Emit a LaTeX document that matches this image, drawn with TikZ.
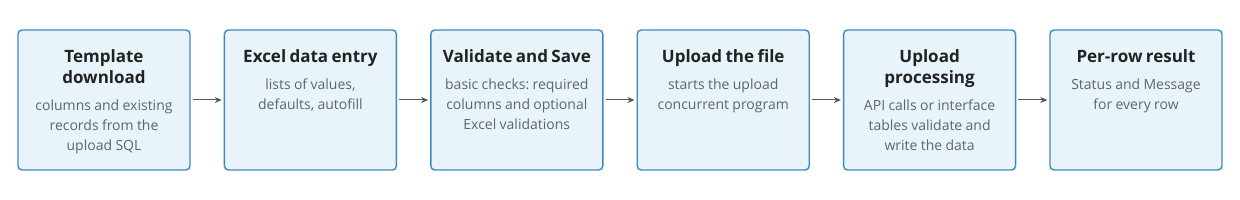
\documentclass[tikz,border=0pt]{standalone}
\usepackage{fontspec}
\setmainfont{Open Sans}
\usetikzlibrary{arrows.meta}
\definecolor{boxfill}{HTML}{E9F4FA}
\definecolor{boxline}{HTML}{3A8CC0}
\definecolor{titlec}{HTML}{222222}
\definecolor{bodyc}{HTML}{5F656C}
\definecolor{arrowc}{HTML}{555555}
\frenchspacing
\newcommand{\boxtitle}[1]{{\fontsize{17}{21.5}\selectfont\bfseries\color{titlec}#1\par}\vspace{7pt}}
\newcommand{\boxbody}[1]{{\fontsize{14}{20}\selectfont\color{bodyc}#1\par}}
\tikzset{
  stepbox/.style={draw=boxline, fill=boxfill, line width=1.4pt, rounded corners=4pt,
    minimum width=172pt, minimum height=140pt, inner sep=0pt},
  txt/.style={anchor=north, inner sep=0pt, text width=168pt, align=center},
  flow/.style={draw=arrowc, line width=1pt, -{Stealth[length=7pt,width=6pt]}, shorten <=2pt, shorten >=2pt}
}
\begin{document}
\begin{tikzpicture}[x=1pt,y=-1pt]
\frenchspacing
\useasboundingbox (0,0) rectangle (1240,200);
\node[stepbox] (b1) at (104,100) {};
\node[stepbox] (b2) at (310.4,100) {};
\node[stepbox] (b3) at (516.8,100) {};
\node[stepbox] (b4) at (723.2,100) {};
\node[stepbox] (b5) at (929.6,100) {};
\node[stepbox] (b6) at (1136,100) {};
\node[txt] (t1) at ([yshift=-20pt]b1.north) {\boxtitle{Template\\download}\boxbody{columns and existing\\records from the\\upload SQL}};
\node[txt] (t2) at ([yshift=-20pt]b2.north) {\boxtitle{Excel data entry}\boxbody{lists of values,\\defaults, autofill}};
\node[txt] (t3) at ([yshift=-20pt]b3.north) {\boxtitle{Validate and Save}\boxbody{basic checks: required\\columns and optional\\Excel validations}};
\node[txt] (t4) at ([yshift=-20pt]b4.north) {\boxtitle{Upload the file}\boxbody{starts the upload\\concurrent program}};
\node[txt] (t5) at ([yshift=-20pt]b5.north) {\boxtitle{Upload\\processing}\boxbody{API calls or interface\\tables validate and\\write the data}};
\node[txt] (t6) at ([yshift=-20pt]b6.north) {\boxtitle{Per-row result}\boxbody{Status and Message\\for every row}};
\draw[flow] (b1) -- (b2);
\draw[flow] (b2) -- (b3);
\draw[flow] (b3) -- (b4);
\draw[flow] (b4) -- (b5);
\draw[flow] (b5) -- (b6);
\end{tikzpicture}
\end{document}
